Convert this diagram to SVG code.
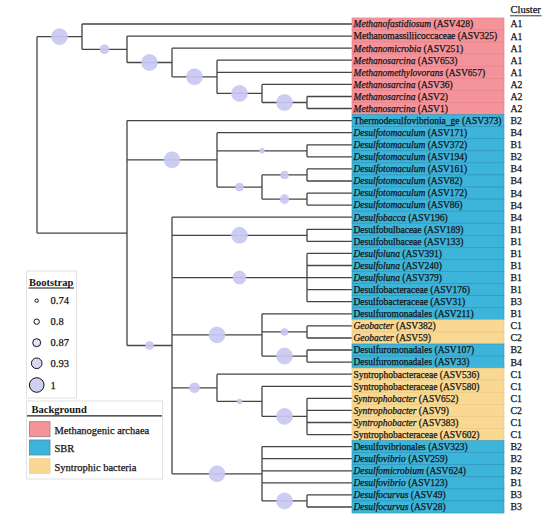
<svg xmlns="http://www.w3.org/2000/svg" width="550" height="528" viewBox="0 0 550 528">
<style>
text{font-family:"Liberation Serif","Times New Roman",serif;fill:#151515;stroke:#151515;stroke-width:0.25}
.lbl{font-size:9.5px}
.cl{font-size:9.8px}
.it{font-style:italic}
.hd{font-size:10.5px}
.lt{font-size:10.5px;font-weight:bold;stroke-width:0}
.li{font-size:10.5px}
.br{stroke:#444;stroke-width:1.3;fill:none}
.bs{fill:#C9C9F2;fill-opacity:0.92;stroke:#BDBDEE;stroke-width:0.5}
.pk{fill:#F4939A;stroke:#E67E86;stroke-width:0.6}
.bl{fill:#3DB4DA;stroke:#2D93B8;stroke-width:0.6}
.yl{fill:#F8D892;stroke:#E9C77E;stroke-width:0.6}
.lc{stroke:#111;stroke-width:1}
</style>
<rect width="550" height="528" fill="#fff"/>

<!-- header -->
<text class="hd" x="510.5" y="13">Cluster</text>
<line x1="510" y1="15.8" x2="541.5" y2="15.8" stroke="#222" stroke-width="0.9"/>

<!-- connectors -->
<g id="connectors" class="br">
<path d="M37 36.65V233.05 M37 36.65H82 M37 233.05H127"/>
<path d="M82 24V49.3 M82 24H352 M82 49.3H127"/>
<path d="M127 36.1V62.5 M127 36.1H352 M127 62.5H172"/>
<path d="M172 48.2V76.8 M172 48.2H352 M172 76.8H217"/>
<path d="M217 60.2V93.45 M217 60.2H352 M217 72.3H352 M217 93.45H262"/>
<path d="M262 84.4V102.5 M262 84.4H352 M262 102.5H307"/>
<path d="M307 96.5V108.5 M307 96.5H352 M307 108.5H352"/>
<path d="M127 120.6V345.5 M127 120.6H352 M127 159.85H217 M127 345.5H172"/>
<path d="M217 132.7V187.05 M217 132.7H352 M217 150.8H307 M217 187.05H262"/>
<path d="M307 144.8V156.8 M307 144.8H352 M307 156.8H352"/>
<path d="M262 174.95V199.1 M262 174.95H307 M262 199.1H307"/>
<path d="M307 168.9V181 M307 168.9H352 M307 181H352"/>
<path d="M307 193.1V205.1 M307 193.1H352 M307 205.1H352"/>
<path d="M172 217.2V473.8 M172 217.2H352 M172 235.35H307 M172 277.55H307 M172 334.9H262 M172 387.8H217 M172 473.8H262"/>
<path d="M307 229.3V241.4 M307 229.3H352 M307 241.4H352"/>
<path d="M307 253.4V301.7 M307 253.4H352 M307 265.5H352 M307 277.6H352 M307 289.7H352 M307 301.7H352"/>
<path d="M262 313.8V356.05 M262 313.8H352 M262 331.95H307 M262 356.05H307"/>
<path d="M307 325.9V338 M307 325.9H352 M307 338H352"/>
<path d="M307 350V362.1 M307 350H352 M307 362.1H352"/>
<path d="M217 374.2V401.4 M217 374.2H352 M217 401.4H262"/>
<path d="M262 386.3V416.45 M262 386.3H352 M262 416.45H307"/>
<path d="M307 398.3V434.6 M307 398.3H352 M307 410.4H352 M307 422.5H352 M307 434.6H352"/>
<path d="M262 446.6V500.95 M262 446.6H352 M262 458.7H352 M262 470.8H352 M262 482.9H352 M262 500.95H307"/>
<path d="M307 494.9V507 M307 494.9H352 M307 507H352"/>
</g>

<!-- bootstrap support -->
<g id="bootstrap">
<circle class="bs" cx="59.5" cy="36.65" r="8"/>
<circle class="bs" cx="104.5" cy="49.3" r="4.5"/>
<circle class="bs" cx="149.5" cy="62.5" r="8"/>
<circle class="bs" cx="194.5" cy="76.8" r="8"/>
<circle class="bs" cx="239.5" cy="93.45" r="8"/>
<circle class="bs" cx="284.5" cy="102.5" r="8"/>
<circle class="bs" cx="172" cy="159.85" r="8"/>
<circle class="bs" cx="262" cy="150.8" r="2.5"/>
<circle class="bs" cx="239.5" cy="187.05" r="4"/>
<circle class="bs" cx="284.5" cy="174.95" r="4"/>
<circle class="bs" cx="284.5" cy="199.1" r="4.5"/>
<circle class="bs" cx="149.5" cy="345.5" r="4"/>
<circle class="bs" cx="239.5" cy="235.35" r="8"/>
<circle class="bs" cx="239.5" cy="277.55" r="6.5"/>
<circle class="bs" cx="217" cy="334.9" r="8"/>
<circle class="bs" cx="284.5" cy="331.95" r="3.5"/>
<circle class="bs" cx="284.5" cy="356.05" r="8"/>
<circle class="bs" cx="194.5" cy="387.8" r="5"/>
<circle class="bs" cx="239.5" cy="401.4" r="2.5"/>
<circle class="bs" cx="284.5" cy="416.45" r="8"/>
<circle class="bs" cx="217" cy="473.8" r="8"/>
<circle class="bs" cx="284.5" cy="500.95" r="8"/>
</g>

<!-- leaves -->
<g id="leaf-ASV428"><rect class="pk" x="352" y="17.96" width="152" height="12.08"/><text class="lbl" x="353.5" y="27.3"><tspan class="it">Methanofastidiosum</tspan> (ASV428)</text><text class="cl" x="510.5" y="27.4">A1</text></g>
<g id="leaf-ASV325"><rect class="pk" x="352" y="30.04" width="152" height="12.08"/><text class="lbl" x="353.5" y="39.4">Methanomassiliicoccaceae (ASV325)</text><text class="cl" x="510.5" y="39.5">A1</text></g>
<g id="leaf-ASV251"><rect class="pk" x="352" y="42.11" width="152" height="12.08"/><text class="lbl" x="353.5" y="51.5"><tspan class="it">Methanomicrobia</tspan> (ASV251)</text><text class="cl" x="510.5" y="51.6">A1</text></g>
<g id="leaf-ASV653"><rect class="pk" x="352" y="54.19" width="152" height="12.08"/><text class="lbl" x="353.5" y="63.5"><tspan class="it">Methanosarcina</tspan> (ASV653)</text><text class="cl" x="510.5" y="63.6">A1</text></g>
<g id="leaf-ASV657"><rect class="pk" x="352" y="66.26" width="152" height="12.08"/><text class="lbl" x="353.5" y="75.6"><tspan class="it">Methanomethylovorans</tspan> (ASV657)</text><text class="cl" x="510.5" y="75.7">A1</text></g>
<g id="leaf-ASV36"><rect class="pk" x="352" y="78.34" width="152" height="12.08"/><text class="lbl" x="353.5" y="87.7"><tspan class="it">Methanosarcina</tspan> (ASV36)</text><text class="cl" x="510.5" y="87.8">A2</text></g>
<g id="leaf-ASV2"><rect class="pk" x="352" y="90.41" width="152" height="12.08"/><text class="lbl" x="353.5" y="99.8"><tspan class="it">Methanosarcina</tspan> (ASV2)</text><text class="cl" x="510.5" y="99.9">A2</text></g>
<g id="leaf-ASV1"><rect class="pk" x="352" y="102.49" width="152" height="12.08"/><text class="lbl" x="353.5" y="111.8"><tspan class="it">Methanosarcina</tspan> (ASV1)</text><text class="cl" x="510.5" y="111.9">A2</text></g>
<g id="leaf-ASV373"><rect class="bl" x="352" y="114.56" width="152" height="12.08"/><text class="lbl" x="353.5" y="123.9">Thermodesulfovibrionia_ge (ASV373)</text><text class="cl" x="510.5" y="124">B2</text></g>
<g id="leaf-ASV171"><rect class="bl" x="352" y="126.64" width="152" height="12.08"/><text class="lbl" x="353.5" y="136"><tspan class="it">Desulfotomaculum</tspan> (ASV171)</text><text class="cl" x="510.5" y="136.1">B4</text></g>
<g id="leaf-ASV372"><rect class="bl" x="352" y="138.71" width="152" height="12.08"/><text class="lbl" x="353.5" y="148.1"><tspan class="it">Desulfotomaculum</tspan> (ASV372)</text><text class="cl" x="510.5" y="148.2">B1</text></g>
<g id="leaf-ASV194"><rect class="bl" x="352" y="150.79" width="152" height="12.08"/><text class="lbl" x="353.5" y="160.1"><tspan class="it">Desulfotomaculum</tspan> (ASV194)</text><text class="cl" x="510.5" y="160.2">B2</text></g>
<g id="leaf-ASV161"><rect class="bl" x="352" y="162.86" width="152" height="12.08"/><text class="lbl" x="353.5" y="172.2"><tspan class="it">Desulfotomaculum</tspan> (ASV161)</text><text class="cl" x="510.5" y="172.3">B4</text></g>
<g id="leaf-ASV82"><rect class="bl" x="352" y="174.94" width="152" height="12.08"/><text class="lbl" x="353.5" y="184.3"><tspan class="it">Desulfotomaculum</tspan> (ASV82)</text><text class="cl" x="510.5" y="184.4">B4</text></g>
<g id="leaf-ASV172"><rect class="bl" x="352" y="187.01" width="152" height="12.08"/><text class="lbl" x="353.5" y="196.4"><tspan class="it">Desulfotomaculum</tspan> (ASV172)</text><text class="cl" x="510.5" y="196.5">B4</text></g>
<g id="leaf-ASV86"><rect class="bl" x="352" y="199.09" width="152" height="12.08"/><text class="lbl" x="353.5" y="208.4"><tspan class="it">Desulfotomaculum</tspan> (ASV86)</text><text class="cl" x="510.5" y="208.5">B4</text></g>
<g id="leaf-ASV196"><rect class="bl" x="352" y="211.16" width="152" height="12.08"/><text class="lbl" x="353.5" y="220.5"><tspan class="it">Desulfobacca</tspan> (ASV196)</text><text class="cl" x="510.5" y="220.6">B4</text></g>
<g id="leaf-ASV189"><rect class="bl" x="352" y="223.24" width="152" height="12.08"/><text class="lbl" x="353.5" y="232.6">Desulfobulbaceae (ASV189)</text><text class="cl" x="510.5" y="232.7">B1</text></g>
<g id="leaf-ASV133"><rect class="bl" x="352" y="235.31" width="152" height="12.08"/><text class="lbl" x="353.5" y="244.7">Desulfobulbaceae (ASV133)</text><text class="cl" x="510.5" y="244.8">B1</text></g>
<g id="leaf-ASV391"><rect class="bl" x="352" y="247.39" width="152" height="12.08"/><text class="lbl" x="353.5" y="256.7"><tspan class="it">Desulfoluna</tspan> (ASV391)</text><text class="cl" x="510.5" y="256.8">B1</text></g>
<g id="leaf-ASV240"><rect class="bl" x="352" y="259.46" width="152" height="12.08"/><text class="lbl" x="353.5" y="268.8"><tspan class="it">Desulfoluna</tspan> (ASV240)</text><text class="cl" x="510.5" y="268.9">B1</text></g>
<g id="leaf-ASV379"><rect class="bl" x="352" y="271.54" width="152" height="12.08"/><text class="lbl" x="353.5" y="280.9"><tspan class="it">Desulfoluna</tspan> (ASV379)</text><text class="cl" x="510.5" y="281">B1</text></g>
<g id="leaf-ASV176"><rect class="bl" x="352" y="283.61" width="152" height="12.08"/><text class="lbl" x="353.5" y="293">Desulfobacteraceae (ASV176)</text><text class="cl" x="510.5" y="293.1">B1</text></g>
<g id="leaf-ASV31"><rect class="bl" x="352" y="295.69" width="152" height="12.08"/><text class="lbl" x="353.5" y="305">Desulfobacteraceae (ASV31)</text><text class="cl" x="510.5" y="305.1">B3</text></g>
<g id="leaf-ASV211"><rect class="bl" x="352" y="307.76" width="152" height="12.08"/><text class="lbl" x="353.5" y="317.1">Desulfuromonadales (ASV211)</text><text class="cl" x="510.5" y="317.2">B1</text></g>
<g id="leaf-ASV382"><rect class="yl" x="352" y="319.84" width="152" height="12.08"/><text class="lbl" x="353.5" y="329.2"><tspan class="it">Geobacter</tspan> (ASV382)</text><text class="cl" x="510.5" y="329.3">C1</text></g>
<g id="leaf-ASV59"><rect class="yl" x="352" y="331.91" width="152" height="12.08"/><text class="lbl" x="353.5" y="341.3"><tspan class="it">Geobacter</tspan> (ASV59)</text><text class="cl" x="510.5" y="341.4">C2</text></g>
<g id="leaf-ASV107"><rect class="bl" x="352" y="343.99" width="152" height="12.08"/><text class="lbl" x="353.5" y="353.3">Desulfuromonadales (ASV107)</text><text class="cl" x="510.5" y="353.4">B2</text></g>
<g id="leaf-ASV33"><rect class="bl" x="352" y="356.06" width="152" height="12.08"/><text class="lbl" x="353.5" y="365.4">Desulfuromonadales (ASV33)</text><text class="cl" x="510.5" y="365.5">B4</text></g>
<g id="leaf-ASV536"><rect class="yl" x="352" y="368.14" width="152" height="12.08"/><text class="lbl" x="353.5" y="377.5">Syntrophobacteraceae (ASV536)</text><text class="cl" x="510.5" y="377.6">C1</text></g>
<g id="leaf-ASV580"><rect class="yl" x="352" y="380.21" width="152" height="12.08"/><text class="lbl" x="353.5" y="389.6">Syntrophobacteraceae (ASV580)</text><text class="cl" x="510.5" y="389.7">C1</text></g>
<g id="leaf-ASV652"><rect class="yl" x="352" y="392.29" width="152" height="12.08"/><text class="lbl" x="353.5" y="401.6"><tspan class="it">Syntrophobacter</tspan> (ASV652)</text><text class="cl" x="510.5" y="401.7">C1</text></g>
<g id="leaf-ASV9"><rect class="yl" x="352" y="404.36" width="152" height="12.08"/><text class="lbl" x="353.5" y="413.7"><tspan class="it">Syntrophobacter</tspan> (ASV9)</text><text class="cl" x="510.5" y="413.8">C2</text></g>
<g id="leaf-ASV383"><rect class="yl" x="352" y="416.44" width="152" height="12.08"/><text class="lbl" x="353.5" y="425.8"><tspan class="it">Syntrophobacter</tspan> (ASV383)</text><text class="cl" x="510.5" y="425.9">C1</text></g>
<g id="leaf-ASV602"><rect class="yl" x="352" y="428.51" width="152" height="12.08"/><text class="lbl" x="353.5" y="437.9">Syntrophobacteraceae (ASV602)</text><text class="cl" x="510.5" y="438">C1</text></g>
<g id="leaf-ASV323"><rect class="bl" x="352" y="440.59" width="152" height="12.08"/><text class="lbl" x="353.5" y="449.9">Desulfovibrionales (ASV323)</text><text class="cl" x="510.5" y="450">B2</text></g>
<g id="leaf-ASV259"><rect class="bl" x="352" y="452.66" width="152" height="12.08"/><text class="lbl" x="353.5" y="462"><tspan class="it">Desulfovibrio</tspan> (ASV259)</text><text class="cl" x="510.5" y="462.1">B2</text></g>
<g id="leaf-ASV624"><rect class="bl" x="352" y="464.74" width="152" height="12.08"/><text class="lbl" x="353.5" y="474.1"><tspan class="it">Desulfomicrobium</tspan> (ASV624)</text><text class="cl" x="510.5" y="474.2">B2</text></g>
<g id="leaf-ASV123"><rect class="bl" x="352" y="476.81" width="152" height="12.08"/><text class="lbl" x="353.5" y="486.2"><tspan class="it">Desulfovibrio</tspan> (ASV123)</text><text class="cl" x="510.5" y="486.3">B1</text></g>
<g id="leaf-ASV49"><rect class="bl" x="352" y="488.89" width="152" height="12.08"/><text class="lbl" x="353.5" y="498.2"><tspan class="it">Desulfocurvus</tspan> (ASV49)</text><text class="cl" x="510.5" y="498.3">B3</text></g>
<g id="leaf-ASV28"><rect class="bl" x="352" y="500.96" width="152" height="12.08"/><text class="lbl" x="353.5" y="510.3"><tspan class="it">Desulfocurvus</tspan> (ASV28)</text><text class="cl" x="510.5" y="510.4">B3</text></g>

<!-- bootstrap legend -->
<g id="legend-bootstrap">
<rect x="26.5" y="271" width="50" height="127" fill="#fff" stroke="#e2e2e2" stroke-width="1"/>
<text class="lt" x="29" y="285.5">Bootstrap</text>
<line x1="28.5" y1="288" x2="74" y2="288" stroke="#111" stroke-width="1"/>
<circle class="lc" cx="36.7" cy="300.7" r="1.7" fill="#fff"/>
<circle class="lc" cx="36.7" cy="321.7" r="2.7" fill="#fff"/>
<circle class="lc" cx="36.7" cy="342.7" r="4" fill="#E4E4F8"/>
<circle class="lc" cx="36.7" cy="363.3" r="5.3" fill="#D6D6F5"/>
<circle class="lc" cx="36.7" cy="385" r="7.3" fill="#CFCFF4"/>
<text class="li" x="50.5" y="304.2">0.74</text>
<text class="li" x="50.5" y="325.2">0.8</text>
<text class="li" x="50.5" y="346.2">0.87</text>
<text class="li" x="50.5" y="366.8">0.93</text>
<text class="li" x="50.5" y="388.5">1</text>
</g>

<!-- background legend -->
<g id="legend-background">
<rect x="26.5" y="401" width="136" height="78" fill="#fff" stroke="#e2e2e2" stroke-width="1"/>
<text class="lt" x="31.5" y="412.5">Background</text>
<line x1="27" y1="415.8" x2="162" y2="415.8" stroke="#222" stroke-width="1.2"/>
<rect x="29.5" y="421.7" width="20.5" height="15" fill="#F4939A" stroke="#9a7f80" stroke-width="0.8"/>
<rect x="29.5" y="440" width="20.5" height="15" fill="#3DB4DA" stroke="#5a7fa6" stroke-width="0.8"/>
<rect x="29.5" y="458.5" width="20.5" height="15" fill="#F8D892" stroke="#e8c981" stroke-width="0.6"/>
<text class="li" x="54.5" y="433.5">Methanogenic archaea</text>
<text class="li" x="54.5" y="452">SBR</text>
<text class="li" x="54.5" y="470.5">Syntrophic bacteria</text>
</g>
</svg>
